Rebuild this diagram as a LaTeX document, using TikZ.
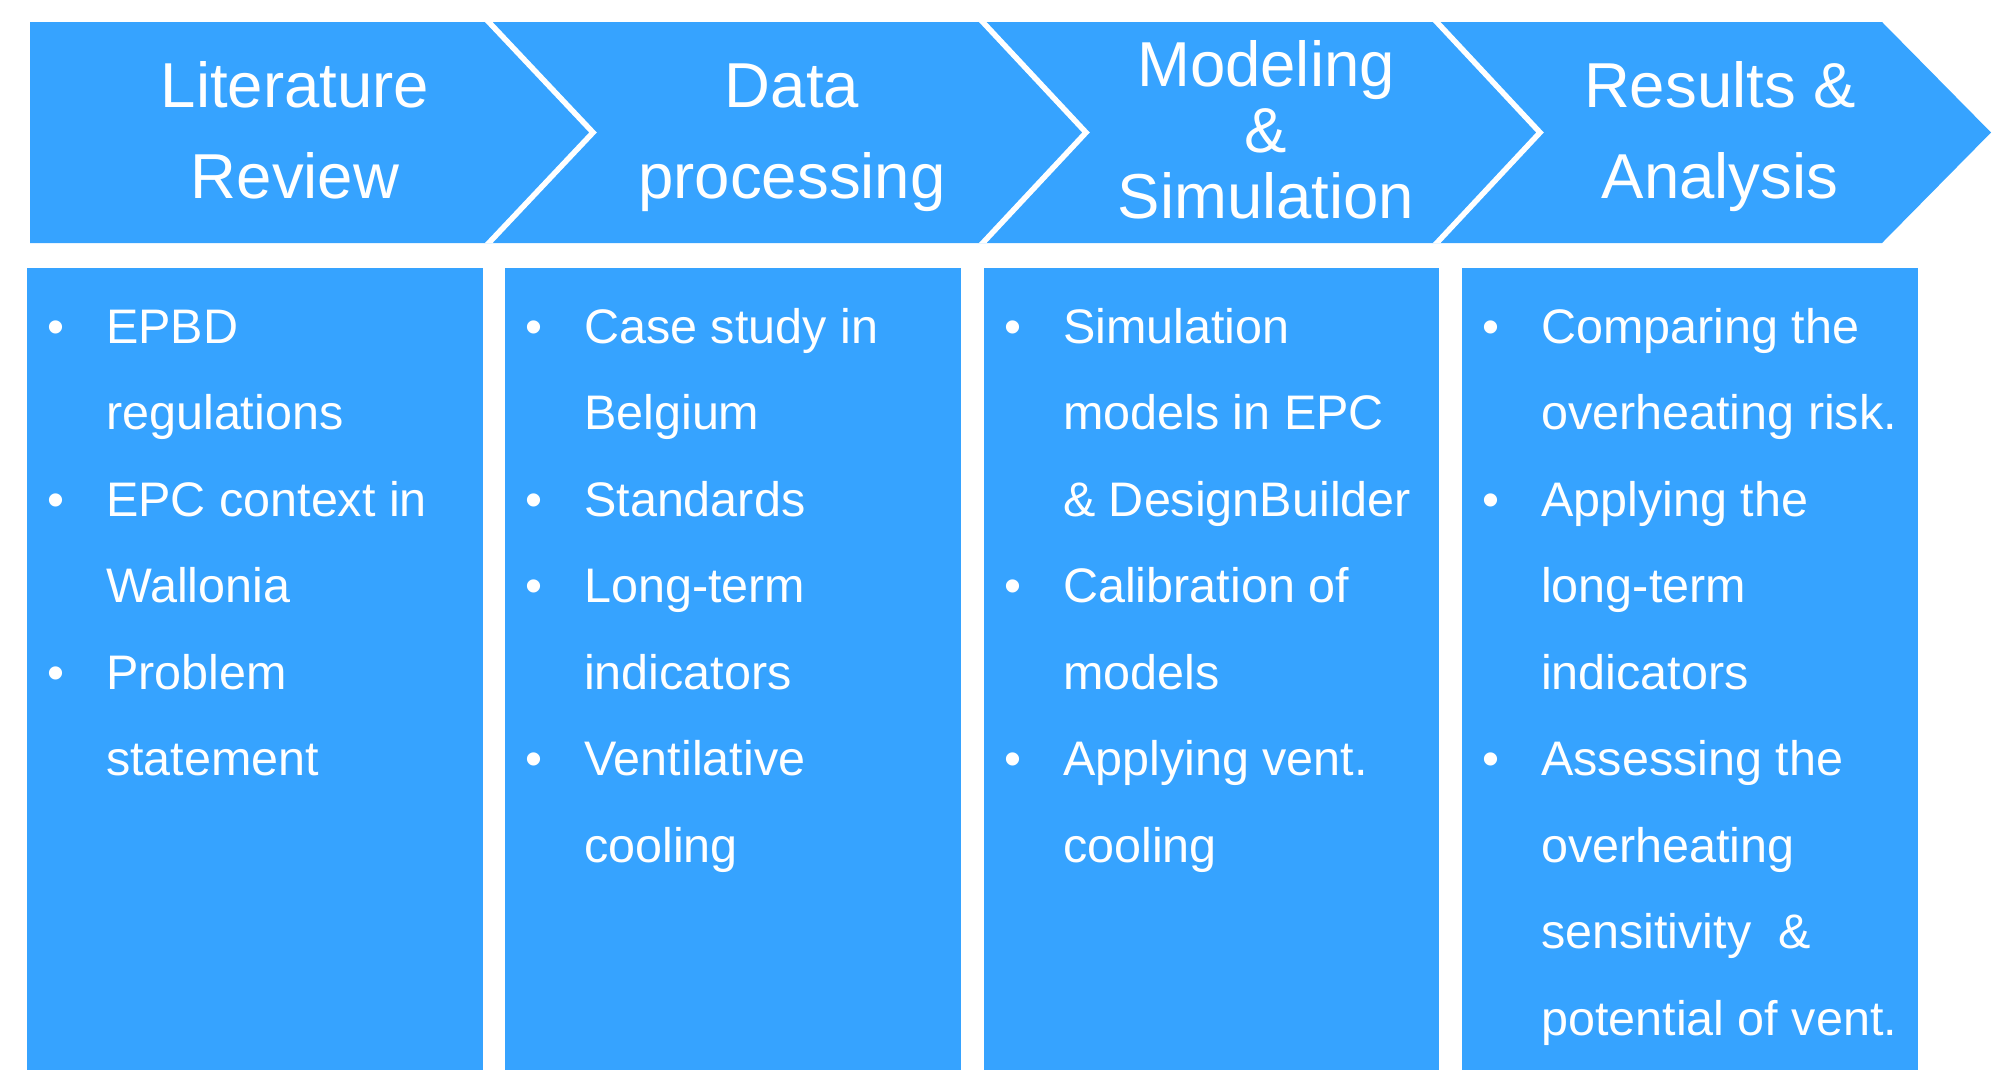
\documentclass[tikz,border=0pt]{standalone}
\usepackage{fontspec}
\setmainfont{Liberation Sans}
\definecolor{chev}{HTML}{36A3FF}
\tikzset{
  headtext/.style={text=white, inner sep=0pt, anchor=base, font=\fontsize{63.5}{70}\selectfont},
  bodytext/.style={text=white, inner sep=0pt, anchor=base west, font=\fontsize{48.5}{56}\selectfont},
  bullettext/.style={text=white, inner sep=0pt, anchor=base, font=\fontsize{48.5}{56}\selectfont},
  sepline/.style={draw=white, line width=5.5pt, line join=miter},
  bodybox/.style={fill=chev, draw=none}
}
\newcommand{\bline}[4]{\node[bodytext] (#1) at (#2, 343+86.5*#3) {#4};}
\newcommand{\bbul}[3]{\node[bullettext] (#1) at (#2, 343+86.5*#3) {•};}
\begin{document}
\begin{tikzpicture}[x=1pt,y=-1pt]
\useasboundingbox (0,0) rectangle (2013,1069);
% header band
\path[fill=chev] (30,22) -- (1882,22) -- (1991,132.5) -- (1882,243) -- (30,243) -- cycle;
\begin{scope}
  \clip (30,22) -- (1882,22) -- (1991,132.5) -- (1882,243) -- (30,243) -- cycle;
  \draw[sepline] (485,18) -- (593,132.5) -- (485,247);
  \draw[sepline] (979,18) -- (1086,132.5) -- (979,247);
  \draw[sepline] (1433,18) -- (1540,132.5) -- (1433,247);
\end{scope}
% header texts
\node[headtext] (h1a) at (295,107) {Literature};
\node[headtext] (h1b) at (295,198) {Review};
\node[headtext] (h2a) at (792,107) {Data};
\node[headtext] (h2b) at (792,198) {processing};
\node[headtext] (h3a) at (1266,86) {Modeling};
\node[headtext] (h3b) at (1266,152) {\&};
\node[headtext] (h3c) at (1266,218) {Simulation};
\node[headtext] (h4a) at (1720,107) {Results \&};
\node[headtext] (h4b) at (1720,198) {Analysis};
% body boxes
\path[bodybox] (27,268) rectangle (483,1075);
\path[bodybox] (505,268) rectangle (961,1075);
\path[bodybox] (984,268) rectangle (1439,1075);
\path[bodybox] (1462,268) rectangle (1918,1075);
% box 1
\bbul{a0}{56}{0} \bline{at0}{106}{0}{EPBD}
\bline{at1}{106}{1}{regulations}
\bbul{a2}{56}{2} \bline{at2}{106}{2}{EPC context in}
\bline{at3}{106}{3}{Wallonia}
\bbul{a4}{56}{4} \bline{at4}{106}{4}{Problem}
\bline{at5}{106}{5}{statement}
% box 2
\bbul{b0}{534}{0} \bline{bt0}{584}{0}{Case study in}
\bline{bt1}{584}{1}{Belgium}
\bbul{b2}{534}{2} \bline{bt2}{584}{2}{Standards}
\bbul{b3}{534}{3} \bline{bt3}{584}{3}{Long-term}
\bline{bt4}{584}{4}{indicators}
\bbul{b5}{534}{5} \bline{bt5}{584}{5}{Ventilative}
\bline{bt6}{584}{6}{cooling}
% box 3
\bbul{c0}{1013}{0} \bline{ct0}{1063}{0}{Simulation}
\bline{ct1}{1063}{1}{models in EPC}
\bline{ct2}{1063}{2}{\& DesignBuilder}
\bbul{c3}{1013}{3} \bline{ct3}{1063}{3}{Calibration of}
\bline{ct4}{1063}{4}{models}
\bbul{c5}{1013}{5} \bline{ct5}{1063}{5}{Applying vent.}
\bline{ct6}{1063}{6}{cooling}
% box 4
\bbul{d0}{1491}{0} \bline{dt0}{1541}{0}{Comparing the}
\bline{dt1}{1541}{1}{overheating risk.}
\bbul{d2}{1491}{2} \bline{dt2}{1541}{2}{Applying the}
\bline{dt3}{1541}{3}{long-term}
\bline{dt4}{1541}{4}{indicators}
\bbul{d5}{1491}{5} \bline{dt5}{1541}{5}{Assessing the}
\bline{dt6}{1541}{6}{overheating}
\bline{dt7}{1541}{7}{sensitivity\ \ \&}
\bline{dt8}{1541}{8}{potential of vent.}
\end{tikzpicture}
\end{document}
